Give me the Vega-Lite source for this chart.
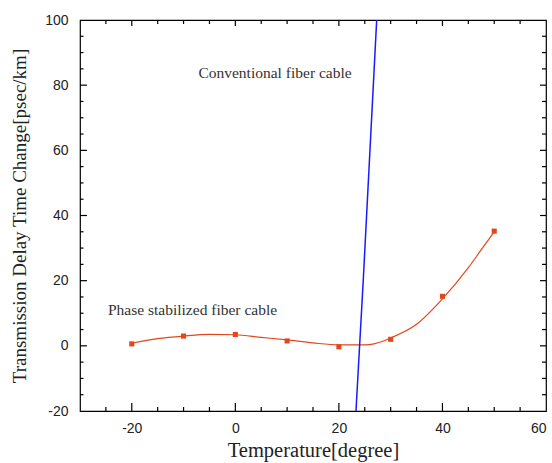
{
  "$schema": "https://vega.github.io/schema/vega-lite/v6.json",
  "width": 466,
  "height": 391,
  "autosize": {"type": "none"},
  "padding": {"left": 80, "top": 20, "right": 6, "bottom": 52},
  "config": {
    "view": {"stroke": "#000", "strokeWidth": 1.2}
  },
  "datasets": {
    "curve": [
      {"t": -20, "d": 0.8}, {"t": -15, "d": 2.2}, {"t": -10, "d": 3.0}, {"t": -5, "d": 3.5},
      {"t": 0, "d": 3.4}, {"t": 5, "d": 2.6}, {"t": 10, "d": 1.8}, {"t": 15, "d": 0.9},
      {"t": 20, "d": 0.3}, {"t": 25, "d": 0.3}, {"t": 27, "d": 0.7}, {"t": 30, "d": 2.4},
      {"t": 35, "d": 6.6}, {"t": 40, "d": 14.4}, {"t": 45, "d": 24}, {"t": 47.5, "d": 29.5}, {"t": 50, "d": 35}
    ],
    "points": [
      {"t": -20, "d": 0.6}, {"t": -10, "d": 3.0}, {"t": 0, "d": 3.5}, {"t": 10, "d": 1.5},
      {"t": 20, "d": -0.3}, {"t": 30, "d": 2.0}, {"t": 40, "d": 15.2}, {"t": 50, "d": 35.2}
    ],
    "conv": [
      {"t": 23.3, "d": -20}, {"t": 24.0, "d": 0}, {"t": 24.7, "d": 20}, {"t": 27.3, "d": 100}
    ],
    "labels": [
      {"t": 7.66, "d": 83.7, "label": "Conventional fiber cable"},
      {"t": -8.27, "d": 11.0, "label": "Phase stabilized fiber cable"}
    ],
    "xticks": [
      {"v": -25, "major": false}, {"v": -20, "major": true}, {"v": -15, "major": false}, {"v": -10, "major": false},
      {"v": -5, "major": false}, {"v": 0, "major": true}, {"v": 5, "major": false}, {"v": 10, "major": false},
      {"v": 15, "major": false}, {"v": 20, "major": true}, {"v": 25, "major": false}, {"v": 30, "major": false},
      {"v": 35, "major": false}, {"v": 40, "major": true}, {"v": 45, "major": false}, {"v": 50, "major": false},
      {"v": 55, "major": false}
    ],
    "yticks": [
      {"v": -15, "major": false}, {"v": -10, "major": false}, {"v": -5, "major": false}, {"v": 0, "major": true},
      {"v": 5, "major": false}, {"v": 10, "major": false}, {"v": 15, "major": false}, {"v": 20, "major": true},
      {"v": 25, "major": false}, {"v": 30, "major": false}, {"v": 35, "major": false}, {"v": 40, "major": true},
      {"v": 45, "major": false}, {"v": 50, "major": false}, {"v": 55, "major": false}, {"v": 60, "major": true},
      {"v": 65, "major": false}, {"v": 70, "major": false}, {"v": 75, "major": false}, {"v": 80, "major": true},
      {"v": 85, "major": false}, {"v": 90, "major": false}, {"v": 95, "major": false}
    ]
  },
  "layer": [
    {
      "data": {"name": "curve"},
      "mark": {"type": "line", "color": "#e2471c", "strokeWidth": 1.2, "interpolate": "monotone"},
      "encoding": {
        "x": {"field": "t", "type": "quantitative", "scale": {"domain": [-30, 60], "nice": false},
          "axis": {"orient": "bottom", "tickCount": 5, "ticks": false, "domain": false, "grid": false, "labelPadding": 10, "labelFont": "Liberation Sans", "labelFontSize": 14, "labelColor": "#222", "labelExpr": "'' + datum.value", "title": "Temperature[degree]", "titleFont": "Liberation Serif", "titleFontWeight": "normal", "titleColor": "#222", "titleFontSize": 20.5, "titlePadding": 5}},
        "y": {"field": "d", "type": "quantitative", "scale": {"domain": [-20, 100], "nice": false},
          "axis": {"orient": "left", "tickCount": 6, "ticks": false, "domain": false, "grid": false, "labelPadding": 12, "labelFont": "Liberation Sans", "labelFontSize": 14, "labelColor": "#222", "labelExpr": "'' + datum.value", "title": "Transmission Delay Time Change[psec/km]", "titleFont": "Liberation Serif", "titleFontWeight": "normal", "titleColor": "#222", "titleFontSize": 19, "titlePadding": 15}}
      }
    },
    {
      "data": {"name": "points"},
      "mark": {"type": "point", "shape": "square", "filled": true, "color": "#e2471c", "size": 26, "opacity": 1},
      "encoding": {
        "x": {"field": "t", "type": "quantitative"},
        "y": {"field": "d", "type": "quantitative"}
      }
    },
    {
      "data": {"name": "conv"},
      "mark": {"type": "line", "color": "#1a1aff", "strokeWidth": 1.5, "clip": true},
      "encoding": {
        "x": {"field": "t", "type": "quantitative"},
        "y": {"field": "d", "type": "quantitative"}
      }
    },
    {
      "data": {"name": "labels"},
      "mark": {"type": "text", "font": "Liberation Serif", "fontSize": 15.5, "color": "#333"},
      "encoding": {
        "text": {"field": "label"},
        "x": {"field": "t", "type": "quantitative"},
        "y": {"field": "d", "type": "quantitative"}
      }
    },
    {
      "data": {"name": "xticks"},
      "mark": {"type": "tick", "orient": "vertical", "color": "#000", "thickness": 1.2, "opacity": 1, "clip": true},
      "encoding": {
        "x": {"field": "v", "type": "quantitative"},
        "y": {"datum": -20, "type": "quantitative"},
        "size": {"condition": {"test": "datum.major", "value": 16}, "value": 8}
      }
    },
    {
      "data": {"name": "xticks"},
      "mark": {"type": "tick", "orient": "vertical", "color": "#000", "thickness": 1.2, "opacity": 1, "clip": true},
      "encoding": {
        "x": {"field": "v", "type": "quantitative"},
        "y": {"datum": 100, "type": "quantitative"},
        "size": {"condition": {"test": "datum.major", "value": 12}, "value": 8}
      }
    },
    {
      "data": {"name": "yticks"},
      "mark": {"type": "tick", "orient": "horizontal", "color": "#000", "thickness": 1.2, "opacity": 1, "clip": true},
      "encoding": {
        "y": {"field": "v", "type": "quantitative"},
        "x": {"datum": -30, "type": "quantitative"},
        "size": {"condition": {"test": "datum.major", "value": 14}, "value": 7}
      }
    },
    {
      "data": {"name": "yticks"},
      "mark": {"type": "tick", "orient": "horizontal", "color": "#000", "thickness": 1.2, "opacity": 1, "clip": true},
      "encoding": {
        "y": {"field": "v", "type": "quantitative"},
        "x": {"datum": 60, "type": "quantitative"},
        "size": {"condition": {"test": "datum.major", "value": 12}, "value": 8}
      }
    }
  ]
}
